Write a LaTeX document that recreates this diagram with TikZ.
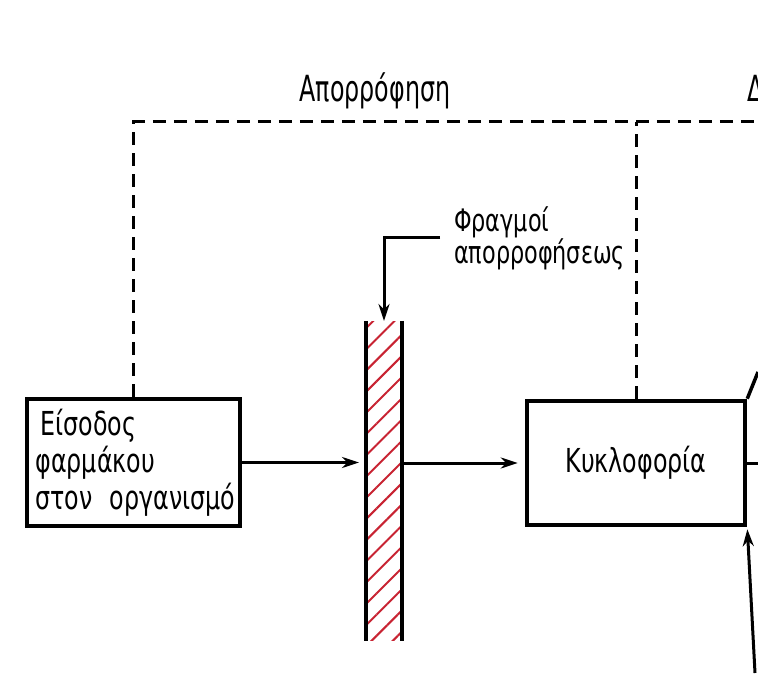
\documentclass[tikz,border=0pt]{standalone}
\usepackage{fontspec}
\setmainfont{DejaVu Sans}[FakeStretch=0.72]
\newfontfamily\tallfont{DejaVu Sans}[FakeStretch=0.66]
\usetikzlibrary{arrows.meta,patterns.meta}
\definecolor{hatchred}{RGB}{200,35,50}

\begin{document}
\begin{tikzpicture}[x=1pt, y=1pt,
    box/.style={draw, line width=4.5pt, inner sep=5pt, font=\fontsize{33}{37}\selectfont},
    flow/.style={-{Stealth[length=17pt,width=11pt]}, line width=3pt},
    dashline/.style={line width=3pt, dash pattern=on 13pt off 8pt}]
  \useasboundingbox (0,0) rectangle (758,673);
  \clip (0,0) rectangle (758,673);
  \node[box, minimum width=213pt, minimum height=127pt, inner xsep=8pt, align=left, text width=196pt] (eisodos) at (133.5,210.5)
    {\hspace*{5pt}Είσοδος\\φαρμάκου\\\mbox{στον\hspace{17pt}οργανισμό}};
  \node[box, minimum width=218pt, minimum height=124pt] (kyklo) at (636,210) {Κυκλοφορία};
  \node[minimum width=34pt, minimum height=318pt, inner sep=0pt,
    pattern={Lines[angle=45,distance=15pt,line width=2pt]}, pattern color=hatchred] (barrier) at (384,192) {};
  \draw[line width=3.5pt] (barrier.north west) -- (barrier.south west) (barrier.north east) -- (barrier.south east);
  \node[anchor=base, font=\tallfont\fontsize{36}{38}\selectfont] (apor) at (375,571) {Απορρόφηση};
  \node[anchor=base west, font=\tallfont\fontsize{36}{38}\selectfont] (delta) at (744,571) {Δ};
  \node[anchor=west, align=left, inner sep=14pt, font=\fontsize{31}{32}\selectfont] (fragmoi) at (440,435)
    {Φραγμοί\\απορροφήσεως};
  \coordinate (redge) at (758,551);
  \coordinate (rmid) at (758,210);
  \coordinate (rtop) at (758,301);
  \coordinate (rbot) at (755,0);
  \draw[dashline] (eisodos.north) |- (redge);
  \draw[dashline] (kyklo.north) -- (kyklo.north |- redge);
  \draw[flow] (fragmoi.west) -| (barrier.north);
  \draw[flow, shorten >=7pt] (eisodos.east) -- (eisodos.east -| barrier.west);
  \draw[flow, shorten >=7pt] (kyklo.west -| barrier.east) -- (kyklo.west);
  \draw[line width=3pt] (kyklo.east) -- (rmid);
  \draw[line width=3.5pt] (kyklo.north east) .. controls +(4,10) .. (rtop);
  \draw[flow, shorten >=2pt] (rbot) -- (kyklo.south east);
\end{tikzpicture}
\end{document}
